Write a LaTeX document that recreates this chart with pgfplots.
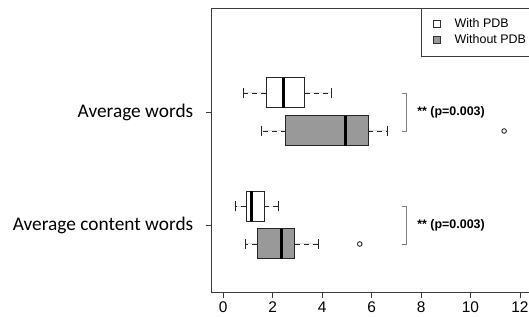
\documentclass[border=0pt]{standalone}
\usepackage{fontspec}
\setmainfont{Liberation Sans}
\newfontfamily\carlito{Carlito}
\usepackage{pgfplots}
\pgfplotsset{compat=1.18}
\usepgfplotslibrary{statistics}
\definecolor{boxgray}{RGB}{153,153,153}
\definecolor{axisgray}{RGB}{60,60,60}
\begin{document}
\begin{tikzpicture}
\useasboundingbox (0,0) rectangle (529bp,317bp);
\clip (0,0) rectangle (529bp,317bp);
\begin{axis}[
  at={(211.4bp,25bp)}, anchor=south west,
  scale only axis, width=320.4bp, height=284bp,
  xmin=-0.48, xmax=12.48, ymin=25, ymax=309,
  axis line style={axisgray, line width=0.8bp},
  xtick={0,2,...,12}, xtick pos=bottom,
  ytick={92,205}, ytick pos=left,
  yticklabels={Average content words, Average words},
  tick align=outside, major tick length=5.5bp,
  tick style={axisgray, line width=0.8bp},
  /pgf/number format/assume math mode=true,
  xticklabel style={font=\fontsize{15.5}{18}\selectfont, inner sep=0pt, yshift=-4bp},
  yticklabel style={font=\carlito\fontsize{19.4}{23}\selectfont, inner sep=0pt, xshift=-12.5bp},
  boxplot/draw direction=x,
  boxplot/box extend=30,
  boxplot/whisker extend=10,
  boxplot/every median/.style={line width=3.5bp, black},
  boxplot/every box/.style={draw=black!85, line width=1bp},
  boxplot/draw/whisker/.code 2 args={
    \draw[black!85, line width=0.9bp, dash pattern=on 5bp off 4bp] (boxplot cs:#1) -- (boxplot cs:#2);
    \draw[black!85, line width=0.9bp] (boxplot whisker cs:#2,0) -- (boxplot whisker cs:#2,1);
  },
  legend style={at={(rel axis cs:1,1)}, anchor=north east, draw=axisgray, line width=0.6bp,
    font=\fontsize{12.5}{15}\selectfont, inner xsep=5.5bp, inner ysep=10bp, row sep=4bp,
    nodes={inner sep=0pt, text height=9bp, text depth=3bp}},
  legend cell align=left,
  legend image code/.code={
    \path[draw=none, fill=none] (-9.8bp,0) -- (18bp,0);
    \draw[#1, line width=0.7bp] (-3.5bp,-3.5bp) rectangle (3.5bp,3.5bp);},
]
\addlegendimage{draw=black!80, fill=white}
\addlegendentry{With PDB}
\addlegendimage{draw=black!80, fill=boxgray}
\addlegendentry{Without PDB}

% Average words, With PDB
\addplot[fill=white, boxplot prepared={lower whisker=0.81, lower quartile=1.73, median=2.43, upper quartile=3.30, upper whisker=4.36, draw position=224}] coordinates {};
% Average words, Without PDB
\addplot[fill=boxgray, boxplot prepared={lower whisker=1.53, lower quartile=2.52, median=4.95, upper quartile=5.87, upper whisker=6.64, draw position=186}] coordinates {};
% Average content words, With PDB
\addplot[fill=white, boxplot prepared={lower whisker=0.50, lower quartile=0.92, median=1.15, upper quartile=1.66, upper whisker=2.23, draw position=110.5}] coordinates {};
% Average content words, Without PDB
\addplot[fill=boxgray, boxplot prepared={lower whisker=0.88, lower quartile=1.38, median=2.36, upper quartile=2.90, upper whisker=3.87, draw position=73}] coordinates {};

% outliers
\addplot[only marks, mark=o, mark size=2.3bp, black!85, line width=0.9bp] coordinates {(11.36,186) (5.52,73)};

% brackets
\addplot[gray, line width=0.8bp, no markers] coordinates {(7.22,224) (7.42,224) (7.42,186) (7.22,186)};
\addplot[gray, line width=0.8bp, no markers] coordinates {(7.22,110.5) (7.42,110.5) (7.42,73) (7.22,73)};

\node[anchor=west, font=\bfseries\fontsize{12.5}{15}\selectfont, inner sep=0pt] at (axis cs:7.84,205) {** (p=0.003)};
\node[anchor=west, font=\bfseries\fontsize{12.5}{15}\selectfont, inner sep=0pt] at (axis cs:7.84,92) {** (p=0.003)};
\end{axis}
\end{tikzpicture}
\end{document}
